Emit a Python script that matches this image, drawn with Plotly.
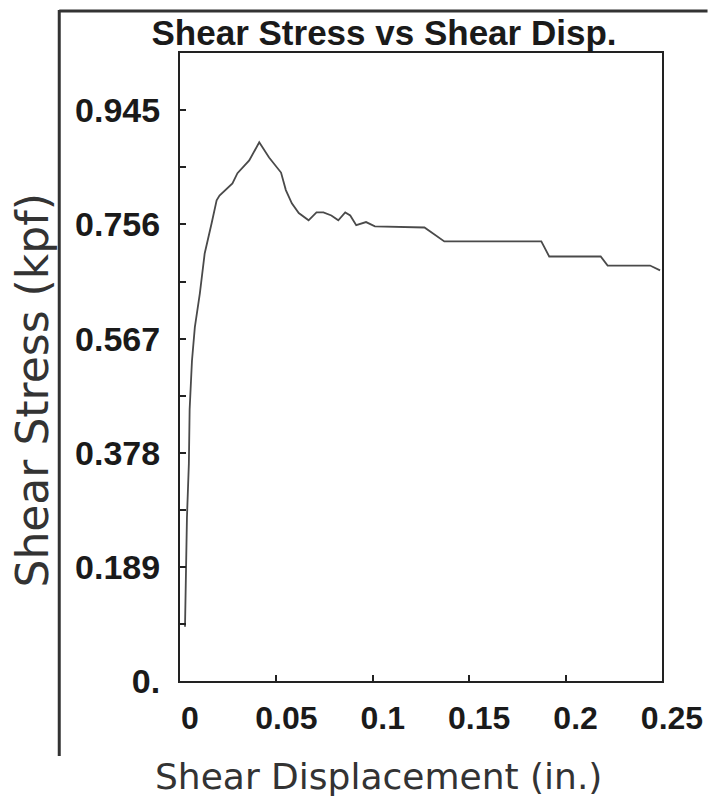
import plotly.graph_objects as go

# Data
shear_disp = [0.0026, 0.0030, 0.0036, 0.0046, 0.0050, 0.0062, 0.0077, 0.0103, 0.0128, 0.0164,
              0.0190, 0.0205, 0.0272, 0.0298, 0.0359, 0.0411, 0.0462, 0.0524, 0.0549, 0.0580,
              0.0616, 0.0667, 0.0708, 0.0744, 0.0785, 0.0821, 0.0857, 0.0883, 0.0914, 0.0965,
              0.1011, 0.1268, 0.1371, 0.1874, 0.1915, 0.2182, 0.2218, 0.2438, 0.2490]
shear_stress = [0.090, 0.170, 0.270, 0.360, 0.450, 0.530, 0.586, 0.642, 0.708, 0.758,
                0.796, 0.804, 0.824, 0.841, 0.862, 0.892, 0.867, 0.842, 0.813, 0.791,
                0.775, 0.763, 0.776, 0.776, 0.771, 0.763, 0.776, 0.771, 0.755, 0.760,
                0.753, 0.751, 0.728, 0.728, 0.703, 0.703, 0.688, 0.688, 0.680]

y_tickvals = [0, 0.189, 0.378, 0.567, 0.756, 0.945]
y_ticktext = ["0.", "0.189", "0.378", "0.567", "0.756", "0.945"]
y_minorvals = [0.0945, 0.2835, 0.4725, 0.6615, 0.8505]
x_tickvals = [0, 0.05, 0.1, 0.15, 0.2, 0.25]
x_ticktext = ["0", "0.05", "0.1", "0.15", "0.2", "0.25"]

title_text = "Shear Stress vs Shear Disp."
x_title = "Shear Displacement (in.)"
y_title = "Shear Stress (kpf)"

W, H = 715, 809
L, R, T, B = 180, 48, 53, 128
pw, ph = W - L - R, H - T - B


def px_x(p):
    return (p - L) / pw


def px_y(p):
    return (H - B - p) / ph


fig = go.Figure()
fig.add_trace(go.Scatter(x=shear_disp, y=shear_stress, mode="lines",
                         line=dict(color="#4a4a4a", width=1.8), showlegend=False))

bold_font = "Liberation Sans, Arial, sans-serif"
title_font = "DejaVu Sans, Liberation Sans, sans-serif"

fig.update_layout(
    width=W, height=H,
    margin=dict(l=L, r=R, t=T, b=B, pad=0),
    paper_bgcolor="white", plot_bgcolor="white",
    title=dict(text=title_text, x=384 / W, xanchor="center",
               y=1 - 33 / H, yanchor="middle", yref="container",
               font=dict(family=bold_font, size=35, color="#1a1a1a", weight="bold")),
    xaxis=dict(range=[0, 0.25], tickvals=x_tickvals, ticktext=x_ticktext,
               ticks="inside", ticklen=6, tickwidth=2, tickcolor="#222",
               showgrid=False, zeroline=False, showline=True, mirror=True,
               linecolor="#222", linewidth=2,
               tickfont=dict(family=bold_font, size=32, color="#1a1a1a", weight="bold"),
               ticklabelshift=10, ticklabelstandoff=8),
    yaxis=dict(range=[0, 1.04], tickvals=y_tickvals, ticktext=y_ticktext,
               ticks="inside", ticklen=6, tickwidth=2, tickcolor="#222",
               minor=dict(tickvals=y_minorvals, ticks="inside", ticklen=6,
                          tickwidth=2, tickcolor="#222"),
               showgrid=False, zeroline=False, showline=True, mirror=True,
               linecolor="#222", linewidth=2,
               tickfont=dict(family=bold_font, size=34, color="#1a1a1a", weight="bold"),
               ticklabelstandoff=11),
)

# axis titles as annotations
fig.add_annotation(text=x_title, xref="paper", yref="paper",
                   x=px_x(381), y=px_y(776), xanchor="center", yanchor="middle",
                   showarrow=False, font=dict(family=title_font, size=36, color="#333333"))
fig.add_annotation(text=y_title, xref="paper", yref="paper",
                   x=px_x(30), y=px_y(391), xanchor="center", yanchor="middle",
                   textangle=-90, showarrow=False,
                   font=dict(family=title_font, size=44, color="#333333"))

# outer window frame lines
fig.add_shape(type="line", xref="paper", yref="paper",
              x0=px_x(58), x1=px_x(713), y0=px_y(11), y1=px_y(11),
              line=dict(color="#333333", width=3))
fig.add_shape(type="line", xref="paper", yref="paper",
              x0=px_x(58), x1=px_x(58), y0=px_y(10), y1=px_y(756),
              line=dict(color="#333333", width=3))

fig.write_html("out.html")
